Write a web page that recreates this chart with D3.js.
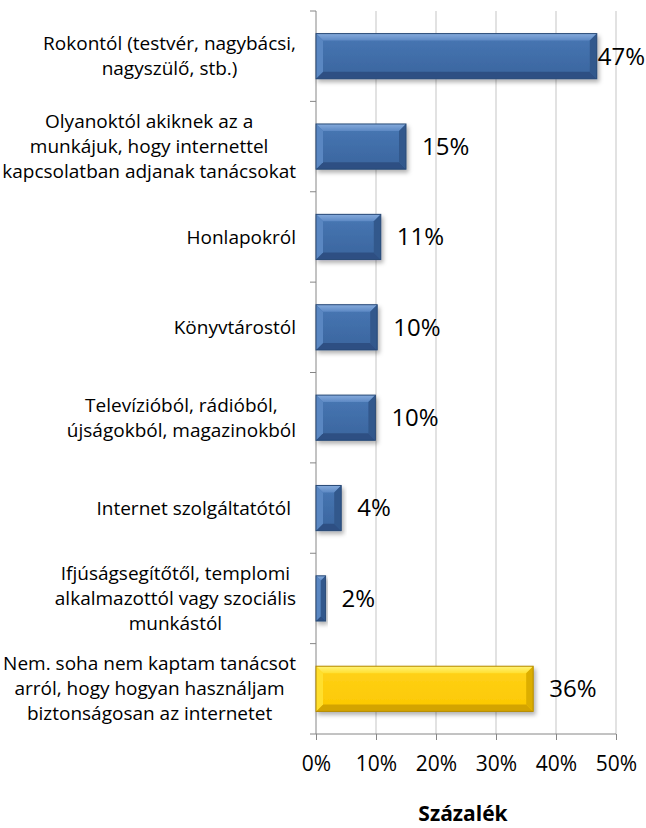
<!DOCTYPE html>
<html>
<head>
<meta charset="utf-8">
<script src="https://cdn.jsdelivr.net/npm/d3@7"></script>
<style>
  body { margin: 0; background: #fff; }
  svg { display: block; font-family: "Open Sans", Lato, sans-serif; }
</style>
</head>
<body>
<div class="chart"></div>
<script>
// data
const categories = [
  'Rokontól (testvér, nagybácsi,\nnagyszülő, stb.)',
  'Olyanoktól akiknek az a\nmunkájuk, hogy internettel\nkapcsolatban adjanak tanácsokat',
  'Honlapokról',
  'Könyvtárostól',
  'Televízióból, rádióból,\nújságokból, magazinokból',
  'Internet szolgáltatótól ',
  'Ifjúságsegítőtől, templomi\nalkalmazottól vagy szociális\nmunkástól',
  'Nem. soha nem kaptam tanácsot\narról, hogy hogyan használjam\nbiztonságosan az internetet'
];
const values = [46.8, 15.0, 10.8, 10.2, 9.9, 4.2, 1.6, 36.2];
const highlighted = [false, false, false, false, false, false, false, true];
const xTicks = [0, 10, 20, 30, 40, 50];
const axisTitle = 'Százalék';

const width = 646;
const height = 828;
const plot = { left: 316, right: 616, top: 11, bottom: 734 };

const svg = d3.select('.chart')
              .append('svg')
              .attr('width', width)
              .attr('height', height);

// scales
const x = d3.scaleLinear()
            .domain([0, 50])
            .range([plot.left, plot.right]);
const y = d3.scaleBand()
            .domain(categories)
            .range([plot.top, plot.bottom])
            .paddingInner(0.5)
            .paddingOuter(0.25);

// defs: gradients + shadow
const defs = svg.append('defs');
const shadow = defs.append('filter').attr('id', 'shadow')
                   .attr('x', '-10%').attr('y', '-20%').attr('width', '130%').attr('height', '160%');
shadow.append('feDropShadow')
      .attr('dx', 2).attr('dy', 3).attr('stdDeviation', 2)
      .attr('flood-color', '#000').attr('flood-opacity', 0.3);

const palette = {
  blue: { face: ['#4877b4', '#3a659e'], top: ['#86abdc', '#5d89c4'], bottom: '#2d5083', left: '#5a87c2', right: '#32588c', stroke: '#2b4b77' },
  gold: { face: ['#ffd21a', '#fcc800'], top: ['#fff37a', '#ffe030'], bottom: '#d3a400', left: '#ffdf2e', right: '#dcae00', stroke: '#b48a00' }
};
Object.entries(palette).forEach(([k, p]) => {
  const g1 = defs.append('linearGradient').attr('id', k + '-face').attr('x1', 0).attr('y1', 0).attr('x2', 0).attr('y2', 1);
  g1.append('stop').attr('offset', '0%').attr('stop-color', p.face[0]);
  g1.append('stop').attr('offset', '100%').attr('stop-color', p.face[1]);
  const g2 = defs.append('linearGradient').attr('id', k + '-top').attr('x1', 0).attr('y1', 0).attr('x2', 0).attr('y2', 1);
  g2.append('stop').attr('offset', '0%').attr('stop-color', p.top[0]);
  g2.append('stop').attr('offset', '100%').attr('stop-color', p.top[1]);
});

// gridlines
svg.append('g')
   .selectAll('line')
   .data(xTicks.slice(1))
   .join('line')
   .attr('x1', d => x(d)).attr('x2', d => x(d))
   .attr('y1', plot.top).attr('y2', plot.bottom)
   .attr('stroke', '#d9d9d9')
   .attr('stroke-width', 1.5);

// x axis
const xAxis = svg.append('g')
   .attr('transform', `translate(0, ${plot.bottom})`)
   .call(d3.axisBottom(x).tickValues(xTicks).tickSize(6).tickPadding(16).tickFormat(d => d + '%'))
   .call(g => g.select('.domain').attr('stroke', '#868686').attr('d', `M${plot.left},0H${plot.right}`));
xAxis.selectAll('.tick line').attr('stroke', '#868686');
xAxis.selectAll('.tick text')
     .attr('fill', '#000')
     .style('font-size', '21px')
     .style('font-family', '"Open Sans", sans-serif');

// y axis line + ticks at band boundaries
const step = y.step();
const edges = categories.map(c => y(c) - (step - y.bandwidth()) / 2).concat([plot.bottom]);
svg.append('line')
   .attr('x1', plot.left).attr('x2', plot.left)
   .attr('y1', plot.top).attr('y2', plot.bottom)
   .attr('stroke', '#868686');
svg.append('g')
   .selectAll('line')
   .data(edges)
   .join('line')
   .attr('x1', plot.left - 6).attr('x2', plot.left)
   .attr('y1', d => d).attr('y2', d => d)
   .attr('stroke', '#868686');

// bars
const bars = svg.append('g')
   .selectAll('g')
   .data(categories.map((c, i) => ({ c, v: values[i], p: highlighted[i] ? 'gold' : 'blue' })))
   .join('g')
   .attr('filter', 'url(#shadow)');

bars.each(function(d) {
  const g = d3.select(this);
  const p = palette[d.p];
  const x0 = x(0), x1 = x(d.v), y0 = y(d.c), h = y.bandwidth(), w = x1 - x0;
  const b = Math.min(7, w / 2);
  const y1 = y0 + h;
  g.append('rect').attr('x', x0).attr('y', y0).attr('width', w).attr('height', h)
   .attr('fill', `url(#${d.p}-face)`);
  const poly = pts => pts.map(q => q.join(',')).join(' ');
  g.append('polygon').attr('points', poly([[x0, y0], [x1, y0], [x1 - b, y0 + b], [x0 + b, y0 + b]])).attr('fill', `url(#${d.p}-top)`);
  g.append('polygon').attr('points', poly([[x0, y1], [x1, y1], [x1 - b, y1 - b], [x0 + b, y1 - b]])).attr('fill', p.bottom);
  g.append('polygon').attr('points', poly([[x0, y0], [x0 + b, y0 + b], [x0 + b, y1 - b], [x0, y1]])).attr('fill', p.left);
  g.append('polygon').attr('points', poly([[x1, y0], [x1 - b, y0 + b], [x1 - b, y1 - b], [x1, y1]])).attr('fill', p.right);
  g.append('rect').attr('x', x0).attr('y', y0).attr('width', w).attr('height', h)
   .attr('fill', 'none').attr('stroke', p.stroke).attr('stroke-width', 1);
});

// value labels
svg.append('g')
   .selectAll('text')
   .data(categories.map((c, i) => ({ c, v: values[i] })))
   .join('text')
   .attr('y', d => y(d.c) + y.bandwidth() / 2)
   .attr('dy', '0.35em')
   .style('font-size', '24px')
   .text(d => d3.format('.0f')(d.v) + '%')
   .attr('x', function(d) {
     const tw = this.getComputedTextLength();
     return Math.min(x(d.v) + 16, width - tw - 1);
   });

// category labels (multi-line, centred block right-aligned to axis)
const lineH = 25;
svg.append('g')
   .selectAll('text')
   .data(categories)
   .join('text')
   .style('font-size', '19px')
   .style('white-space', 'pre')
   .attr('text-anchor', 'middle')
   .each(function(c) {
     const t = d3.select(this);
     const lines = c.split('\n');
     const cy = y(c) + y.bandwidth() / 2;
     lines.forEach((l, i) => {
       t.append('tspan')
        .attr('y', cy + (i - (lines.length - 1) / 2) * lineH)
        .attr('dy', '0.35em')
        .text(l);
     });
     const maxW = d3.max(t.selectAll('tspan').nodes(), n => n.getComputedTextLength());
     t.selectAll('tspan').attr('x', 296 - maxW / 2);
   });

// axis title
svg.append('text')
   .attr('x', 463)
   .attr('y', 821)
   .attr('text-anchor', 'middle')
   .style('font-size', '21px')
   .style('font-weight', 'bold')
   .text(axisTitle);
</script>
</body>
</html>
